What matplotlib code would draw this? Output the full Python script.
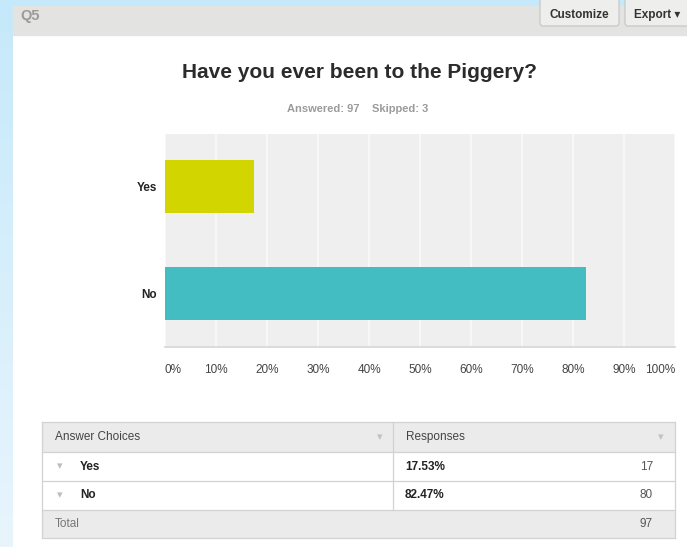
import numpy as np
import matplotlib
matplotlib.use('Agg')
import matplotlib.pyplot as plt
from matplotlib.patches import Rectangle, FancyBboxPatch
from matplotlib.transforms import ScaledTranslation

plt.rcParams['font.family'] = ['Liberation Sans', 'DejaVu Sans']

# survey data
question = 'Have you ever been to the Piggery?'
choices = ['Yes', 'No']
counts = [17, 80]
skipped = 3
answered = sum(counts)
percents = [100.0 * c / answered for c in counts]
bar_colors = ['#d2d500', '#43bdc2']
ticks = list(range(0, 101, 10))

W, H = 687, 547
fig = plt.figure(figsize=(W / 100, H / 100), dpi=100)
fig.patch.set_facecolor('white')

# page layer in pixel coordinates
bg = fig.add_axes([0, 0, 1, 1], zorder=0)
bg.set_xlim(0, W)
bg.set_ylim(H, 0)
bg.axis('off')

# light blue page border with a soft fade downwards
grad = np.linspace(0, 1, 256).reshape(-1, 1)
strip = np.ones((256, 1, 3))
top_c = np.array([197, 233, 250]) / 255
bot_c = np.array([232, 245, 253]) / 255
strip[:, 0, :] = top_c + (bot_c - top_c) * grad
bg.imshow(strip, extent=[0, 13, H, 0], aspect='auto', zorder=1)
bg.add_patch(Rectangle((0, 0), W, 6, color='#c5e9fa', zorder=1))

# header bar
bg.add_patch(Rectangle((13, 6), W - 13, 29, color='#e3e3e1', zorder=2))
bg.text(20, 16, 'Q5', fontsize=10.5, fontweight='bold', color='#9a9a9a',
        va='center', ha='left', zorder=3)
for x0, x1, label in [(540, 619, 'Customize'), (625, 700, 'Export \u25be')]:
    bg.add_patch(FancyBboxPatch((x0, -4), x1 - x0, 30,
                                boxstyle='round,pad=0,rounding_size=3',
                                facecolor='#eeeeec', edgecolor='#c4c4c4',
                                linewidth=0.8, zorder=3))
    bg.text(x0 + 9, 15, label, fontsize=8.5, fontweight='bold', color='#333333',
            va='center', ha='left', zorder=4)

# title block
bg.text(359, 73, question, fontsize=15, fontweight='bold', color='#2b2b2b',
        ha='center', va='center', zorder=3)
bg.text(358, 109, f'Answered: {answered}    Skipped: {skipped}', fontsize=8,
        fontweight='bold', color='#9b9b9b', ha='center', va='center', zorder=3)

# bar chart
ax = fig.add_axes([165 / W, 1 - 347 / H, 510 / W, 213 / H], zorder=2)
ax.set_facecolor('#efefef')
y = np.arange(len(choices))
ax.barh(y, percents, height=0.495, color=bar_colors, zorder=3)
ax.set_xlim(0, 100)
ax.set_ylim(1.5, -0.49)
ax.set_xticks(ticks)
ax.set_xticklabels([f'{t}%' for t in ticks], fontsize=8.5, color='#444444')
ax.set_yticks(y)
ax.set_yticklabels(choices, fontsize=8.5, fontweight='bold', color='#222222')
ax.tick_params(length=0, pad=12)
ax.tick_params(axis='y', pad=6)
# end labels sit inside the axis span
for lbl, dx in zip(ax.get_xticklabels(), [8] + [0] * 9 + [-15]):
    lbl.set_transform(lbl.get_transform() + ScaledTranslation(dx / 100, 0, fig.dpi_scale_trans))
ax.grid(axis='x', color='#f9f9f9', linewidth=1.2, zorder=1)
for side in ['top', 'right', 'left']:
    ax.spines[side].set_visible(False)
ax.spines['bottom'].set_color('#d6d6d6')
ax.spines['bottom'].set_linewidth(1.2)

# response table
tx0, tx1, tdiv = 42, 675, 393
rows_y = [422, 452, 481, 510, 538]
bg.add_patch(Rectangle((tx0, rows_y[0]), tx1 - tx0, rows_y[1] - rows_y[0],
                       facecolor='#ebebeb', edgecolor='none', zorder=2))
bg.add_patch(Rectangle((tx0, rows_y[3]), tx1 - tx0, rows_y[4] - rows_y[3],
                       facecolor='#ebebeb', edgecolor='none', zorder=2))
for yy in rows_y:
    bg.plot([tx0, tx1], [yy, yy], color='#d2d2d2', linewidth=0.9, zorder=3)
bg.plot([tx0, tx0], [rows_y[0], rows_y[-1]], color='#d2d2d2', linewidth=0.9, zorder=3)
bg.plot([tx1, tx1], [rows_y[0], rows_y[-1]], color='#d2d2d2', linewidth=0.9, zorder=3)
bg.plot([tdiv, tdiv], [rows_y[0], rows_y[3]], color='#d2d2d2', linewidth=0.9, zorder=3)

mid = lambda i: (rows_y[i] + rows_y[i + 1]) / 2
bg.text(55, mid(0), 'Answer Choices', fontsize=8.5, color='#444444', va='center', zorder=4)
bg.text(406, mid(0), 'Responses', fontsize=8.5, color='#444444', va='center', zorder=4)
bg.text(380, mid(0), '\u25be', fontsize=8, color='#c2c2c2', va='center', ha='center', zorder=4)
bg.text(661, mid(0), '\u25be', fontsize=8, color='#c2c2c2', va='center', ha='center', zorder=4)
for i, (ch, pc, n) in enumerate(zip(choices, percents, counts)):
    yc = mid(i + 1)
    bg.text(60, yc, '\u25be', fontsize=8, color='#bdbdbd', va='center', ha='center', zorder=4)
    bg.text(80, yc, ch, fontsize=8.5, fontweight='bold', color='#222222', va='center', zorder=4)
    bg.text(405, yc, f'{pc:.2f}%', fontsize=8.5, fontweight='bold', color='#222222',
            va='center', zorder=4)
    bg.text(653, yc, str(n), fontsize=8.5, color='#555555', va='center', ha='right', zorder=4)
bg.text(55, mid(3), 'Total', fontsize=8.5, color='#777777', va='center', zorder=4)
bg.text(653, mid(3), str(answered), fontsize=8.5, color='#555555', va='center',
        ha='right', zorder=4)

fig.savefig('out.png', dpi=100)
